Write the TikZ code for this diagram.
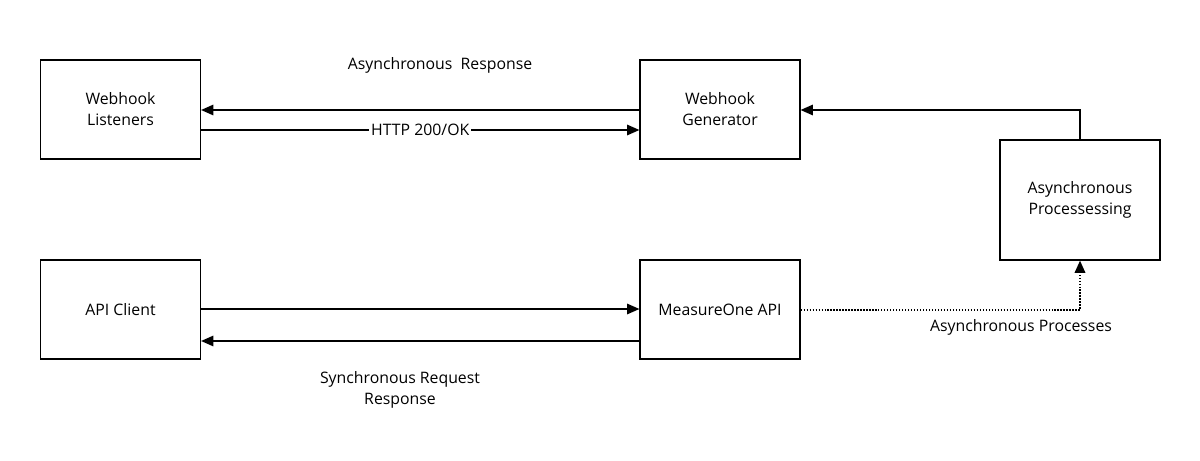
\documentclass[tikz,border=0pt]{standalone}
\usepackage{fontspec}
\setmainfont{Open Sans}
\usetikzlibrary{arrows.meta}
\tikzset{
  box/.style={draw, line width=0.7pt, minimum width=3.2cm, minimum height=1.98cm, align=center, font=\fontsize{9}{12}\selectfont},
  flow/.style={line width=0.7pt, -{Triangle[length=7pt,width=6pt]}},
  lbl/.style={align=center, font=\fontsize{9}{12}\selectfont}
}
\begin{document}
\begin{tikzpicture}[x=0.02cm,y=-0.02cm]
  \useasboundingbox (0,0) rectangle (1200,460);
  \node[box] (listen) at (120.5,109.5) {Webhook\\Listeners};
  \node[box] (gen) at (720,109.5) {Webhook\\Generator};
  \node[box, minimum height=2.4cm] (proc) at (1080,200) {Asynchronous\\Processessing};
  \node[box] (client) at (120.5,309.5) {API Client};
  \node[box] (api) at (720,309.5) {MeasureOne API};
  \coordinate (corner) at (1080,110);
  \coordinate (dots) at (1080,310);
  \draw[flow] (gen.west |- 0,110) -- (listen.east |- 0,110);
  \draw[flow] (listen.east |- 0,130) -- node[lbl, fill=white, inner sep=1pt] {HTTP 200/OK} (gen.west |- 0,130);
  \draw[flow] (proc.north) -- (corner) -- (gen.east |- corner);
  \draw[flow] (client.east |- 0,309) -- (api.west |- 0,309);
  \draw[flow] (api.west |- 0,341) -- (client.east |- 0,341);
  \draw[flow, densely dotted, line width=1pt] (api.east |- dots) -- (dots) -- (proc.south);
  \node[lbl] (asyncresp) at (440,65) {Asynchronous~~Response};
  \node[lbl] (asyncproc) at (1021,327) {Asynchronous Processes};
  \node[lbl] (syncresp) at (400,390) {Synchronous Request\\Response};
\end{tikzpicture}
\end{document}
